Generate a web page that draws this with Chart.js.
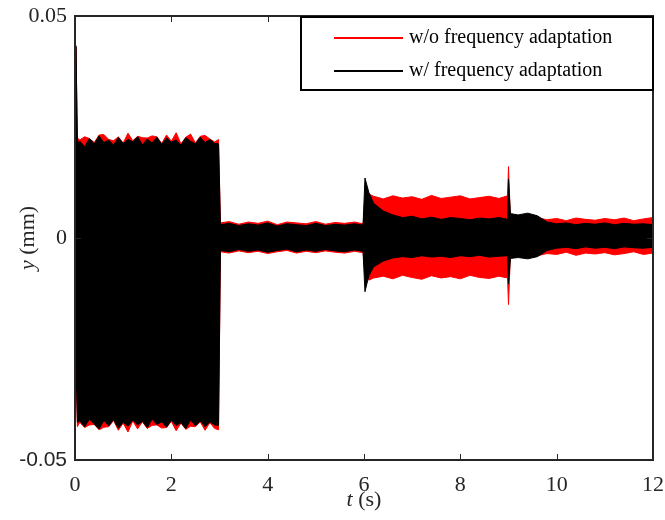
<!DOCTYPE html>
<html lang="en">
<head>
    <meta charset="UTF-8">
    <title>y vs t</title>
    <script src="https://cdn.jsdelivr.net/npm/chart.js@4.4.1/dist/chart.umd.min.js"></script>
    <style>
        html, body {margin: 0;padding: 0;background: #fff;}
        #box {position: relative;width: 665px;height: 520px;}
    </style>
</head>
<body>
<div id="box"><canvas id="cv"></canvas></div>
<script>
    // envelope of y(t), in mm
    const time = [0, 0.02, 0.05, 0.1, 0.2, 0.3, 0.4, 0.5, 0.6, 0.7, 0.8, 0.9, 1.0, 1.1, 1.2, 1.3, 1.4, 1.5,
        1.6, 1.7, 1.8, 1.9, 2.0, 2.1, 2.2, 2.3, 2.4, 2.5, 2.6, 2.7, 2.8, 2.9, 2.98,
        3.02, 3.2, 3.4, 3.6, 3.8, 4.0, 4.2, 4.4, 4.6, 4.8, 5.0, 5.2, 5.4, 5.6, 5.8, 5.98,
        6.02, 6.1, 6.2, 6.4, 6.6, 6.8, 7.0, 7.2, 7.4, 7.6, 7.8, 8.0, 8.2, 8.4, 8.6, 8.8, 8.98,
        9.0, 9.04, 9.2, 9.4, 9.6, 9.8, 10.0, 10.2, 10.4, 10.6, 10.8, 11.0, 11.2, 11.4, 11.6, 11.8, 12.0];

    // w/o frequency adaptation (red)
    const redUpper = [0, 0.043, 0.0225, 0.0221, 0.0228, 0.0224, 0.0215, 0.0232, 0.0233, 0.0222, 0.0219, 0.0228, 0.0214, 0.0236, 0.0219, 0.0229, 0.0226, 0.0225,
        0.0230, 0.0228, 0.0213, 0.0232, 0.0218, 0.0237, 0.0212, 0.0227, 0.0234, 0.0214, 0.0229, 0.0231, 0.0223, 0.0216, 0.0222,
        0.0034, 0.0037, 0.0031, 0.0036, 0.0033, 0.0038, 0.0030, 0.0036, 0.0034, 0.0032, 0.0037, 0.0031, 0.0035, 0.0033, 0.0036, 0.0032,
        0.0075, 0.0099, 0.0094, 0.0088, 0.0095, 0.0090, 0.0093, 0.0087, 0.0096, 0.0089, 0.0092, 0.0095, 0.0088, 0.0091, 0.0094, 0.0089, 0.0095,
        0.0161, 0.0042, 0.0045, 0.0040, 0.0046, 0.0041, 0.0044, 0.0039, 0.0045, 0.0042, 0.0040, 0.0044, 0.0041, 0.0045, 0.0039, 0.0043, 0.0046];
    const redLower = [0, -0.030, -0.0425, -0.0415, -0.0427, -0.0421, -0.0420, -0.0432, -0.0426, -0.0425, -0.0411, -0.0433, -0.0417, -0.0437, -0.0412, -0.0430, -0.0414, -0.0429,
        -0.0422, -0.0421, -0.0428, -0.0427, -0.0413, -0.0434, -0.0417, -0.0431, -0.0424, -0.0425, -0.0414, -0.0433, -0.0416, -0.0429, -0.0432,
        -0.0031, -0.0034, -0.0029, -0.0033, -0.0030, -0.0035, -0.0031, -0.0028, -0.0034, -0.0030, -0.0033, -0.0029, -0.0032, -0.0034, -0.0030, -0.0033,
        -0.0070, -0.0095, -0.0090, -0.0086, -0.0092, -0.0084, -0.0089, -0.0093, -0.0085, -0.0090, -0.0087, -0.0092, -0.0084, -0.0089, -0.0091, -0.0086, -0.0090,
        -0.0150, -0.0036, -0.0038, -0.0033, -0.0040, -0.0035, -0.0037, -0.0032, -0.0039, -0.0034, -0.0036, -0.0033, -0.0038, -0.0035, -0.0031, -0.0037, -0.0034];

    // w/ frequency adaptation (black)
    const blackUpper = [0, 0.0433, 0.0215, 0.0218, 0.0206, 0.0224, 0.0212, 0.0230, 0.0215, 0.0221, 0.0209, 0.0226, 0.0213, 0.0222, 0.0217, 0.0228, 0.0210, 0.0223,
        0.0214, 0.0227, 0.0211, 0.0225, 0.0216, 0.0221, 0.0209, 0.0226, 0.0218, 0.0212, 0.0227, 0.0215, 0.0222, 0.0213, 0.0212,
        0.0030, 0.0033, 0.0028, 0.0032, 0.0029, 0.0034, 0.0027, 0.0032, 0.0030, 0.0028, 0.0033, 0.0028, 0.0031, 0.0029, 0.0032, 0.0029,
        0.0135, 0.0103, 0.0078, 0.0061, 0.0052, 0.0046, 0.0049, 0.0043, 0.0047, 0.0042, 0.0046, 0.0044, 0.0041, 0.0045, 0.0043, 0.0046, 0.0042,
        0.0132, 0.0055, 0.0052, 0.0056, 0.0050, 0.0036, 0.0032, 0.0034, 0.0030, 0.0033, 0.0031, 0.0034, 0.0030, 0.0033, 0.0031, 0.0032, 0.0030];
    const blackLower = [0, -0.028, -0.0415, -0.0412, -0.0425, -0.0408, -0.0419, -0.0430, -0.0411, -0.0423, -0.0409, -0.0428, -0.0415, -0.0424, -0.0410, -0.0421, -0.0413, -0.0427,
        -0.0408, -0.0420, -0.0414, -0.0426, -0.0411, -0.0422, -0.0416, -0.0429, -0.0410, -0.0423, -0.0412, -0.0425, -0.0414, -0.0421, -0.0422,
        -0.0028, -0.0031, -0.0026, -0.0030, -0.0027, -0.0032, -0.0028, -0.0025, -0.0031, -0.0027, -0.0030, -0.0026, -0.0029, -0.0031, -0.0027, -0.0030,
        -0.0121, -0.0085, -0.0065, -0.0052, -0.0045, -0.0042, -0.0044, -0.0040, -0.0043, -0.0041, -0.0044, -0.0040, -0.0042, -0.0039, -0.0043, -0.0041, -0.0040,
        -0.0103, -0.0046, -0.0044, -0.0047, -0.0042, -0.0028, -0.0023, -0.0021, -0.0024, -0.0020, -0.0023, -0.0021, -0.0024, -0.0020, -0.0022, -0.0023, -0.0021];

    const seriesNames = ['w/o frequency adaptation', 'w/ frequency adaptation'];
    const seriesColors = ['#ff0000', '#000000'];
    const xTicks = [0, 2, 4, 6, 8, 10, 12];
    const yTicks = [-0.05, 0, 0.05];

    const axisColor = '#262626';
    const serif = '"Liberation Serif", "Times New Roman", serif';
    const sans = '"Liberation Sans", Arial, sans-serif';

    function pts(ys) {
        return time.map((t, i) => ({x: t, y: ys[i]}));
    }

    function band(ys, color, label, fill) {
        return {
            label: label,
            data: pts(ys),
            borderColor: color,
            backgroundColor: color,
            borderWidth: 1,
            pointRadius: 0,
            tension: 0,
            fill: fill
        };
    }

    // inward ticks, box, axis titles and the legend
    const framePlugin = {
        id: 'frame',
        afterDraw(chart) {
            const ctx = chart.ctx;
            const a = chart.chartArea;
            const sx = chart.scales.x, sy = chart.scales.y;
            ctx.save();
            ctx.strokeStyle = axisColor;
            ctx.lineWidth = 1;
            ctx.beginPath();
            xTicks.forEach(v => {
                const px = Math.round(sx.getPixelForValue(v)) + 0.5;
                ctx.moveTo(px, a.bottom); ctx.lineTo(px, a.bottom - 6);
                ctx.moveTo(px, a.top); ctx.lineTo(px, a.top + 6);
            });
            yTicks.forEach(v => {
                const py = Math.round(sy.getPixelForValue(v)) + 0.5;
                ctx.moveTo(a.left, py); ctx.lineTo(a.left + 6, py);
                ctx.moveTo(a.right, py); ctx.lineTo(a.right - 6, py);
            });
            ctx.stroke();
            ctx.lineWidth = 2;
            ctx.strokeRect(a.left, a.top, a.right - a.left, a.bottom - a.top);

            // axis titles
            ctx.fillStyle = axisColor;
            ctx.textBaseline = 'middle';
            ctx.textAlign = 'left';
            let it = 'italic 22px ' + serif, rg = '22px ' + serif;
            ctx.font = it; let w1 = ctx.measureText('t').width;
            ctx.font = rg; let w2 = ctx.measureText(' (s)').width;
            let x0 = (a.left + a.right) / 2 - (w1 + w2) / 2;
            ctx.font = it; ctx.fillText('t', x0, 500);
            ctx.font = rg; ctx.fillText(' (s)', x0 + w1, 500);

            ctx.save();
            ctx.translate(28, (a.top + a.bottom) / 2);
            ctx.rotate(-Math.PI / 2);
            ctx.font = it; w1 = ctx.measureText('y').width;
            ctx.font = rg; w2 = ctx.measureText(' (mm)').width;
            x0 = -(w1 + w2) / 2;
            ctx.font = it; ctx.fillText('y', x0, 0);
            ctx.font = rg; ctx.fillText(' (mm)', x0 + w1, 0);
            ctx.restore();

            // legend
            const lx = 301, ly = 17, lw = a.right - 301, lh = 73;
            ctx.fillStyle = '#fff';
            ctx.fillRect(lx, ly, lw, lh);
            ctx.strokeStyle = '#000';
            ctx.lineWidth = 2;
            ctx.strokeRect(lx, ly, lw, lh);
            ctx.font = '20px ' + serif;
            seriesNames.forEach((name, i) => {
                const yy = 38 + i * 33;
                ctx.strokeStyle = seriesColors[i];
                ctx.lineWidth = 2;
                ctx.beginPath();
                ctx.moveTo(334, yy); ctx.lineTo(403, yy);
                ctx.stroke();
                ctx.fillStyle = '#000';
                ctx.fillText(name, 409, yy);
            });
            ctx.restore();
        }
    };

    new Chart(document.getElementById('cv'), {
        type: 'line',
        data: {
            datasets: [
                band(blackUpper, seriesColors[1], seriesNames[1], '+1'),
                band(blackLower, seriesColors[1], seriesNames[1] + ' lower', false),
                band(redUpper, seriesColors[0], seriesNames[0], '+1'),
                band(redLower, seriesColors[0], seriesNames[0] + ' lower', false)
            ]
        },
        options: {
            responsive: true,
            maintainAspectRatio: false,
            animation: false,
            layout: {autoPadding: false, padding: {top: 16, right: 12, bottom: 0, left: 0}},
            plugins: {
                legend: {display: false},
                tooltip: {enabled: false}
            },
            scales: {
                x: {
                    type: 'linear',
                    min: 0,
                    max: 12,
                    grid: {display: false, drawTicks: false},
                    border: {display: false},
                    afterFit: s => {
                        s.height = 60;
                        s.paddingLeft = 0;
                        s.paddingRight = 0;
                    },
                    afterBuildTicks: s => { s.ticks = xTicks.map(v => ({value: v})); },
                    ticks: {
                        color: axisColor,
                        padding: 12,
                        maxRotation: 0,
                        font: {family: serif, size: 22}
                    }
                },
                y: {
                    min: -0.05,
                    max: 0.05,
                    grid: {display: false, drawTicks: false},
                    border: {display: false},
                    afterFit: s => {
                        s.width = 75;
                        s.paddingTop = 0;
                        s.paddingBottom = 0;
                    },
                    afterBuildTicks: s => { s.ticks = yTicks.map(v => ({value: v})); },
                    ticks: {
                        color: axisColor,
                        padding: 8,
                        callback: v => v === 0 ? '0' : String(v),
                        font: c => c.index === 0 ? {family: sans, size: 21} : {family: serif, size: 22}
                    }
                }
            }
        },
        plugins: [framePlugin]
    });
</script>
</body>
</html>
